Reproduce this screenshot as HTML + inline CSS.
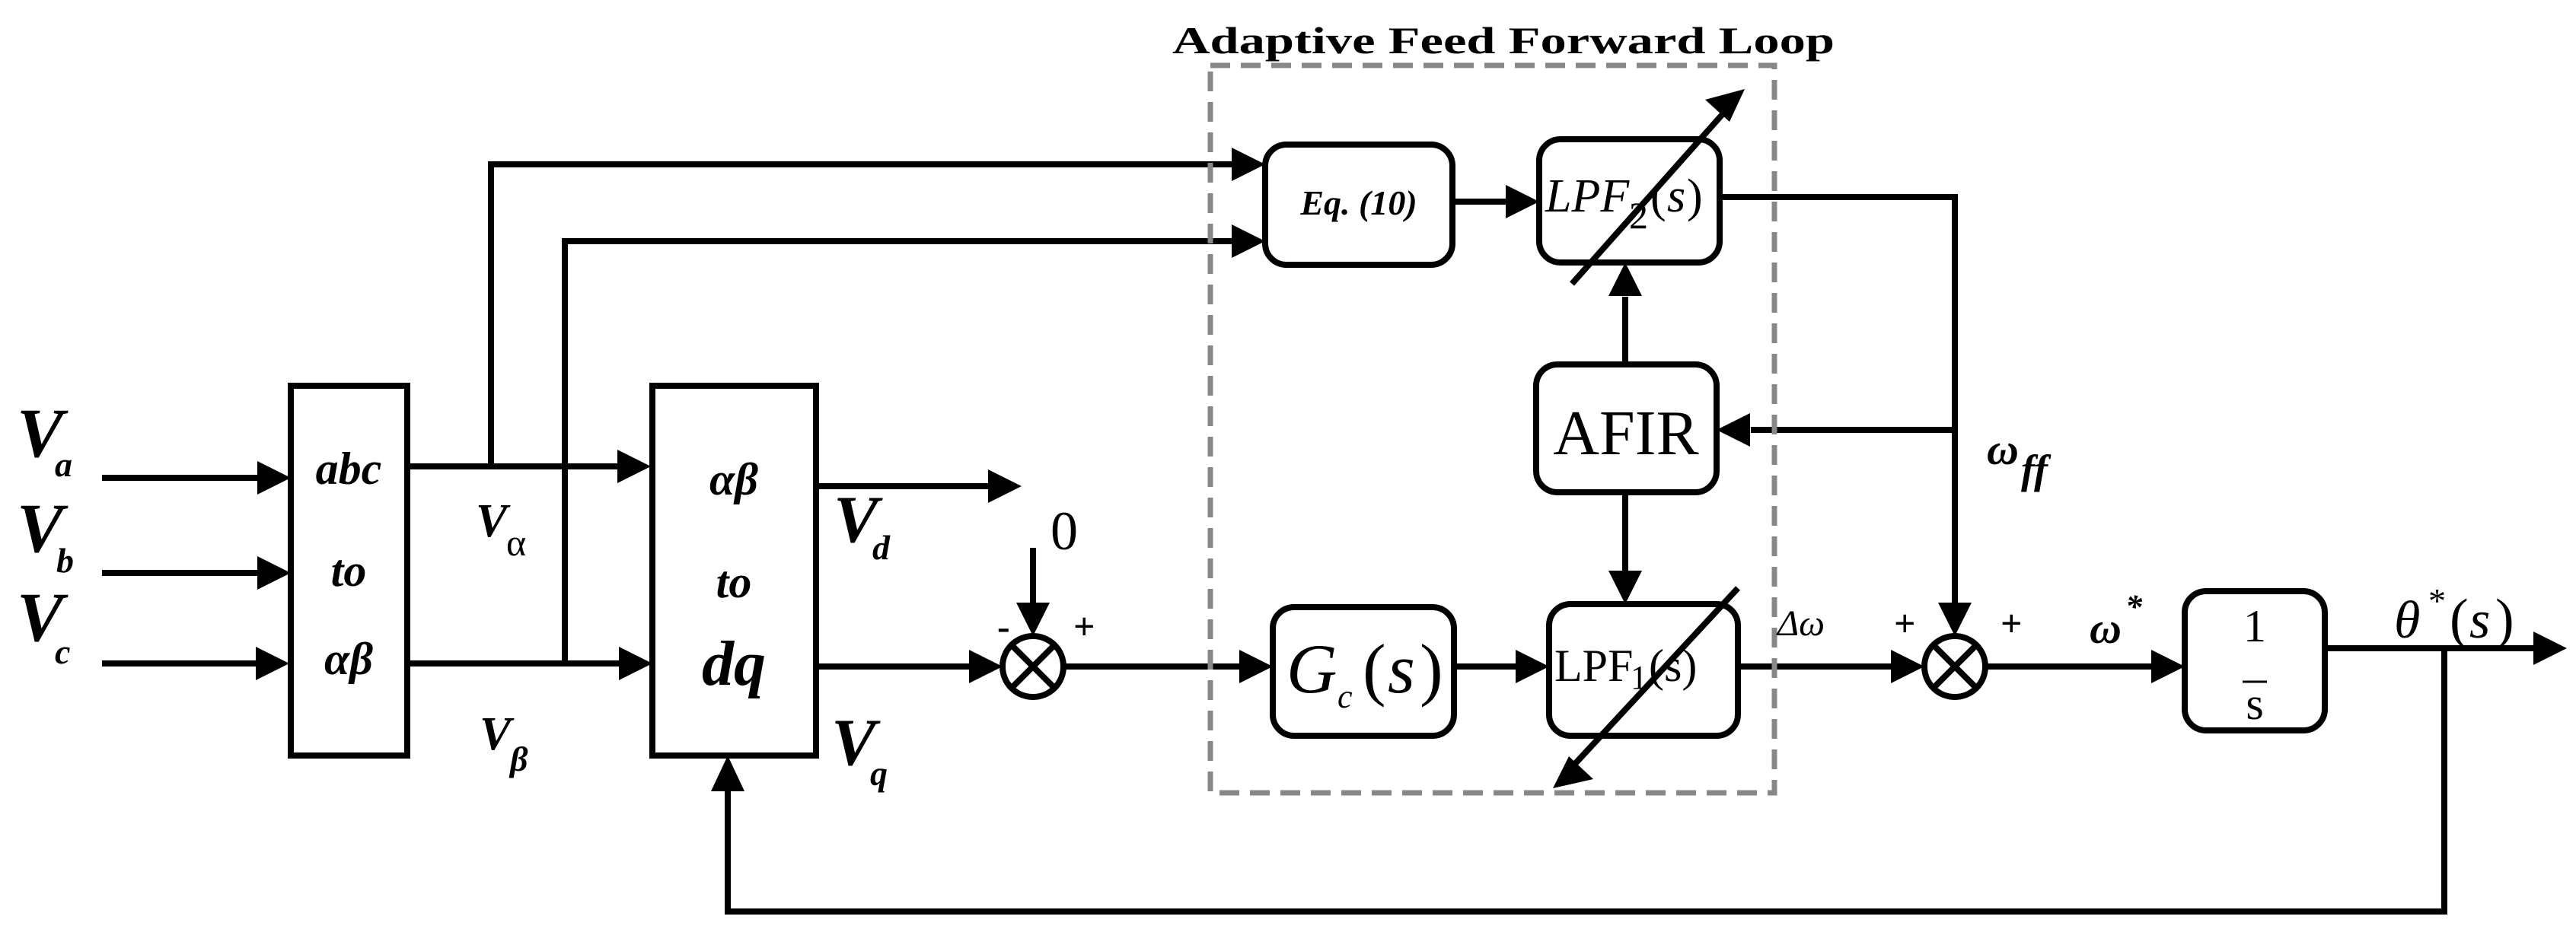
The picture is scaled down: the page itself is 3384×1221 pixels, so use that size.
<!DOCTYPE html>
<html><head><meta charset="utf-8"><style>
html,body{margin:0;padding:0;background:#fff;}
svg{display:block;}
text{font-family:"Liberation Serif",serif;fill:#000;}
.bi{font-weight:bold;font-style:italic;}
</style></head><body>
<svg width="3384" height="1221" viewBox="0 0 3384 1221" xmlns="http://www.w3.org/2000/svg">
<g stroke="#000" fill="none" stroke-width="8">
<line x1="134" y1="628" x2="340" y2="628"/>
<line x1="134" y1="753" x2="340" y2="753"/>
<line x1="134" y1="872" x2="340" y2="872"/>
<rect x="382" y="507" width="153" height="486"/>
<rect x="857" y="507" width="215" height="486"/>
<line x1="535" y1="613" x2="815" y2="613"/>
<polyline points="645,613 645,216 1620,216"/>
<line x1="535" y1="872" x2="815" y2="872"/>
<polyline points="742,872 742,317 1620,317"/>
<line x1="1072" y1="639" x2="1300" y2="639"/>
<line x1="1072" y1="876" x2="1275" y2="876"/>
<circle cx="1357" cy="876" r="40"/>
<line x1="1329" y1="848" x2="1385" y2="904"/>
<line x1="1385" y1="848" x2="1329" y2="904"/>
<line x1="1357" y1="720" x2="1357" y2="800"/>
<line x1="1397" y1="876" x2="1630" y2="876"/>
<rect x="1662" y="190" width="246" height="158" rx="28"/>
<rect x="2022" y="183" width="237" height="162" rx="28"/>
<rect x="2018" y="479" width="237" height="168" rx="28"/>
<rect x="1672" y="798" width="238" height="169" rx="28"/>
<rect x="2035" y="794" width="248" height="173" rx="28"/>
<rect x="2870" y="777" width="184" height="183" rx="28"/>
<line x1="1908" y1="265" x2="1980" y2="265"/>
<line x1="2135" y1="479" x2="2135" y2="390"/>
<line x1="2135" y1="647" x2="2135" y2="750"/>
<line x1="1910" y1="876" x2="1995" y2="876"/>
<polyline points="2259,259 2568,259 2568,795"/>
<line x1="2568" y1="565" x2="2300" y2="565"/>
<line x1="2283" y1="876" x2="2488" y2="876"/>
<circle cx="2568" cy="876" r="40"/>
<line x1="2540" y1="848" x2="2596" y2="904"/>
<line x1="2596" y1="848" x2="2540" y2="904"/>
<line x1="2608" y1="876" x2="2830" y2="876"/>
<line x1="3054" y1="852" x2="3330" y2="852"/>
<polyline points="3211,852 3211,1198 956,1198 956,1040"/>
<line x1="2065" y1="373" x2="2270" y2="142"/>
<line x1="2283" y1="773" x2="2068" y2="1005"/>
</g>
<rect x="1590" y="86" width="741" height="956" fill="none" stroke="#888" stroke-width="7" stroke-dasharray="26,14"/>
<g fill="#000">
<polygon points="382,628 338,606 338,650"/>
<polygon points="382,753 338,731 338,775"/>
<polygon points="380,872 336,850 336,894"/>
<polygon points="855,613 811,591 811,635"/>
<polygon points="857,872 813,850 813,894"/>
<polygon points="1342,639 1298,617 1298,661"/>
<polygon points="1317,876 1273,854 1273,898"/>
<polygon points="1357,836 1335,792 1379,792"/>
<polygon points="1662,216 1618,194 1618,238"/>
<polygon points="1662,317 1618,295 1618,339"/>
<polygon points="2022,265 1978,243 1978,287"/>
<polygon points="2135,345 2113,389 2157,389"/>
<polygon points="2135,794 2113,750 2157,750"/>
<polygon points="2255,565 2299,543 2299,587"/>
<polygon points="1672,876 1628,854 1628,898"/>
<polygon points="2035,876 1991,854 1991,898"/>
<polygon points="2528,876 2484,854 2484,898"/>
<polygon points="2568,836 2546,792 2590,792"/>
<polygon points="2870,876 2826,854 2826,898"/>
<polygon points="3372,852 3328,830 3328,874"/>
<polygon points="956,993 934,1040 978,1040"/>
<polygon points="2292,117 2240,131 2272,160"/>
<polygon points="2040,1036 2093,1024 2061,994"/>
</g>
<text x="1975" y="70" text-anchor="middle" font-weight="bold" font-size="50" textLength="870" lengthAdjust="spacingAndGlyphs">Adaptive Feed Forward  Loop</text>
<g class="bi">
<text x="22" y="600" font-size="92">V</text><text x="72" y="626" font-size="46">a</text>
<text x="22" y="725" font-size="92">V</text><text x="74" y="752" font-size="46">b</text>
<text x="22" y="842" font-size="92">V</text><text x="72" y="872" font-size="46">c</text>
<text x="458" y="636" font-size="60" text-anchor="middle">abc</text>
<text x="458" y="770" font-size="60" text-anchor="middle">to</text>
<text x="458" y="886" font-size="60" text-anchor="middle">αβ</text>
<text x="964" y="650" font-size="60" text-anchor="middle">αβ</text>
<text x="964" y="785" font-size="60" text-anchor="middle">to</text>
<text x="964" y="900" font-size="84" text-anchor="middle">dq</text>
<text x="1095" y="712" font-size="88">V</text><text x="1146" y="735" font-size="46">d</text>
<text x="1092" y="1005" font-size="88">V</text><text x="1143" y="1032" font-size="46">q</text>
<text x="625" y="705" font-size="62">V</text><text x="665" y="730" font-size="50" font-weight="normal" font-style="normal">α</text>
<text x="630" y="985" font-size="62">V</text><text x="670" y="1013" font-size="46">β</text>
<text x="2610" y="610" font-size="58">ω</text><text x="2655" y="635" font-size="54">ff</text>
<text x="2745" y="845" font-size="58">ω</text><text x="2792" y="812" font-size="44">*</text>
</g>
<text x="1380" y="722" font-size="72">0</text>
<text x="1310" y="840" font-size="50" font-weight="bold">-</text>
<text x="1410" y="840" font-size="50" font-weight="bold" font-family="Liberation Sans">+</text>
<text x="2488" y="836" font-size="50" font-weight="bold" font-family="Liberation Sans">+</text>
<text x="2628" y="836" font-size="50" font-weight="bold" font-family="Liberation Sans">+</text>
<text x="2335" y="835" font-size="48" font-style="italic">Δω</text>
<text x="1785" y="282" font-size="46" font-weight="bold" font-style="italic" text-anchor="middle" font-family="Liberation Sans">Eq. (10)</text>
<text x="2030" y="278" font-size="62" font-style="italic">LPF</text><text x="2140" y="300" font-size="50">2</text><text x="2168" y="278" font-size="62">(</text><text x="2190" y="278" font-size="62" font-style="italic">s</text><text x="2216" y="278" font-size="62">)</text>
<text x="2136" y="597" font-size="84" text-anchor="middle">AFIR</text>
<text x="1690" y="910" font-size="92" font-style="italic">G</text><text x="1757" y="930" font-size="44" font-style="italic">c</text><text x="1790" y="910" font-size="92">(</text><text x="1823" y="910" font-size="92" font-style="italic">s</text><text x="1865" y="910" font-size="92">)</text>
<text x="2042" y="895" font-size="60">LPF</text><text x="2142" y="905" font-size="44">1</text><text x="2166" y="895" font-size="60">(s)</text>
<text x="2962" y="843" font-size="60" text-anchor="middle">1</text>
<line x1="2946" y1="896" x2="2978" y2="896" stroke="#000" stroke-width="3"/>
<text x="2962" y="945" font-size="60" text-anchor="middle">s</text>
<text x="3145" y="838" font-size="70" font-style="italic">θ</text><text x="3190" y="805" font-size="46">*</text><text x="3218" y="838" font-size="74">(</text><text x="3244" y="838" font-size="70" font-style="italic">s</text><text x="3278" y="838" font-size="74">)</text>
</svg>
</body></html>
